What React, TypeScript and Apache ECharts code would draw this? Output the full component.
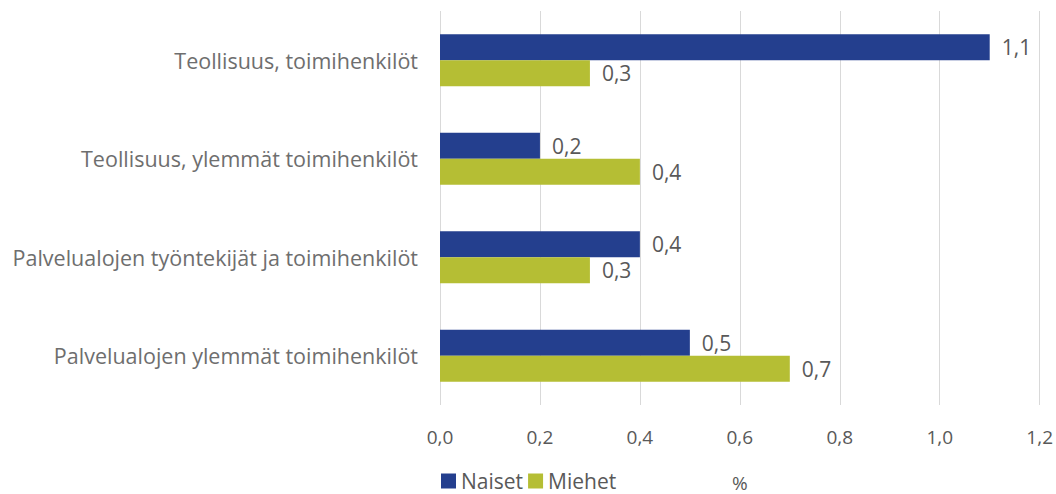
import React, { useEffect, useRef } from "react";
import * as echarts from "echarts";

const categories = [
  "Teollisuus, toimihenkilöt",
  "Teollisuus, ylemmät toimihenkilöt",
  "Palvelualojen työntekijät ja toimihenkilöt",
  "Palvelualojen ylemmät toimihenkilöt",
];
const naiset = [1.1, 0.2, 0.4, 0.5];
const miehet = [0.3, 0.4, 0.3, 0.7];
const xTicks = { min: 0, max: 1.2, interval: 0.2 };

const FONT = "'Open Sans', 'Noto Sans', sans-serif";
const fmt = (v: number) => v.toFixed(1).replace(".", ",");

export default function App() {
  const ref = useRef<HTMLDivElement>(null);
  useEffect(() => {
    const chart = echarts.init(ref.current!, undefined, { renderer: "svg" });
    const label = {
      show: true,
      position: "right" as const,
      distance: 12,
      color: "#595959",
      fontFamily: FONT,
      fontSize: 21,
      formatter: (p: any) => fmt(p.value),
    };
    chart.setOption({
      animation: false,
      textStyle: { fontFamily: FONT },
      grid: { left: 440, right: 16, top: 11, bottom: 89, containLabel: false },
      legend: {
        left: 441,
        top: 468,
        padding: 0,
        itemWidth: 15,
        itemHeight: 15,
        itemGap: 5,
        icon: "rect",
        textStyle: { color: "#595959", fontSize: 21, fontFamily: FONT, lineHeight: 26 },
        data: ["Naiset", "Miehet"],
      },
      graphic: [
        {
          type: "text",
          left: 732,
          top: 473,
          style: { text: "%", fill: "#595959", font: `19px ${FONT}` },
        },
      ],
      xAxis: {
        type: "value",
        min: xTicks.min,
        max: xTicks.max,
        interval: xTicks.interval,
        axisLine: { show: false },
        axisTick: { show: false },
        splitLine: { lineStyle: { color: "#d9d9d9", width: 1 } },
        axisLabel: {
          color: "#595959",
          fontSize: 19,
          fontFamily: FONT,
          margin: 22,
          formatter: (v: number) => fmt(v),
        },
      },
      yAxis: {
        type: "category",
        inverse: true,
        data: categories,
        axisLine: { show: false },
        axisTick: { show: false },
        axisLabel: { color: "#6e6e6e", fontSize: 21.5, fontFamily: FONT, margin: 22 },
      },
      series: [
        {
          name: "Naiset",
          type: "bar",
          data: naiset,
          itemStyle: { color: "#243F8E" },
          barGap: "0%",
          barCategoryGap: "47%",
          label,
        },
        {
          name: "Miehet",
          type: "bar",
          data: miehet,
          itemStyle: { color: "#B5BE34" },
          label,
        },
      ],
    });
    return () => chart.dispose();
  }, []);
  return <div ref={ref} style={{ width: 1056, height: 494, position: "absolute", left: 0, top: 0 }} />;
}
